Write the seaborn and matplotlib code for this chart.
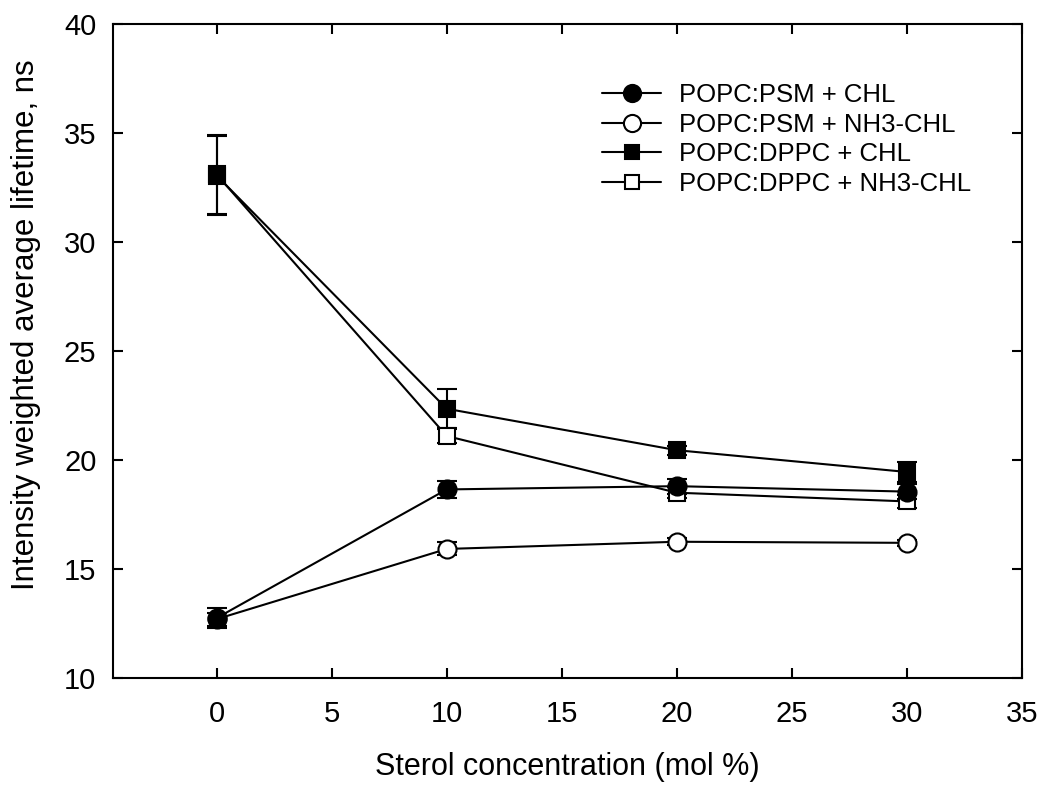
import numpy as np
import pandas as pd
import matplotlib
matplotlib.use("Agg")
import matplotlib.pyplot as plt
import seaborn as sns

# sterol concentration (mol %)
conc = [0, 10, 20, 30]

psm_chl = [12.75, 18.65, 18.8, 18.55]
psm_chl_err = [0.45, 0.4, 0.35, 0.35]
psm_nh3 = [12.7, 15.92, 16.25, 16.2]
psm_nh3_err = [0.3, 0.3, 0.15, 0.15]
dppc_chl = [33.05, 22.35, 20.45, 19.45]
dppc_chl_err = [1.8, 0.9, 0.2, 0.45]
dppc_nh3 = [33.1, 21.1, 18.5, 18.1]
dppc_nh3_err = [1.8, 0.3, 0.25, 0.3]

labels = ["POPC:PSM + CHL", "POPC:PSM + NH3-CHL",
          "POPC:DPPC + CHL", "POPC:DPPC + NH3-CHL"]

sns.set_style("ticks")
plt.rcParams['font.family'] = ['Liberation Sans', 'DejaVu Sans']
plt.rcParams['text.color'] = 'black'
plt.rcParams['axes.labelcolor'] = 'black'
plt.rcParams['xtick.color'] = 'black'
plt.rcParams['ytick.color'] = 'black'

fig = plt.figure(figsize=(10.4, 7.87), dpi=100)
ax = fig.add_axes([0.1087, 0.1385, 0.874, 0.831])

series = [
    (psm_nh3, psm_nh3_err, labels[1], 'o', 'white'),
    (dppc_nh3, dppc_nh3_err, labels[3], 's', 'white'),
    (psm_chl, psm_chl_err, labels[0], 'o', 'black'),
    (dppc_chl, dppc_chl_err, labels[2], 's', 'black'),
]

for vals, errs, lab, mk, fc in series:
    df = pd.DataFrame({'conc': conc, 'val': vals})
    ax.errorbar(conc, vals, yerr=errs, fmt='none', ecolor='black',
                elinewidth=1.5, capsize=7.5, capthick=1.5, zorder=2)
    sns.lineplot(data=df, x='conc', y='val', ax=ax, color='black',
                 marker=mk, markersize=13 if mk == 'o' else 11,
                 markerfacecolor=fc, markeredgecolor='black',
                 markeredgewidth=1.5, linewidth=1.5, label=lab, zorder=3)

ax.set_xlim(-4.5, 35)
ax.set_ylim(10, 40)
ax.set_xticks([0, 5, 10, 15, 20, 25, 30, 35])
ax.set_yticks([10, 15, 20, 25, 30, 35, 40])
ax.tick_params(direction='in', top=True, right=True, length=7, width=1.5,
               labelsize=21)
ax.tick_params(axis='x', pad=16)
ax.tick_params(axis='y', pad=12)
for sp in ax.spines.values():
    sp.set_linewidth(1.5)
    sp.set_color('black')

ax.set_xlabel("Sterol concentration (mol %)", fontsize=22, labelpad=17)
ax.set_ylabel("Intensity weighted average lifetime, ns", fontsize=22.5)
ax.yaxis.set_label_coords(-0.079, 0.54)

h, l = ax.get_legend_handles_labels()
order = [l.index(x) for x in labels]
ax.legend([h[i] for i in order], [l[i] for i in order], loc='upper left',
          bbox_to_anchor=(0.538, 0.91), borderaxespad=0, borderpad=0,
          frameon=False, fontsize=18.5,
          handlelength=2.3, handletextpad=0.7, labelspacing=0.22,
          markerscale=0.95)

fig.savefig("out.png", dpi=100)
